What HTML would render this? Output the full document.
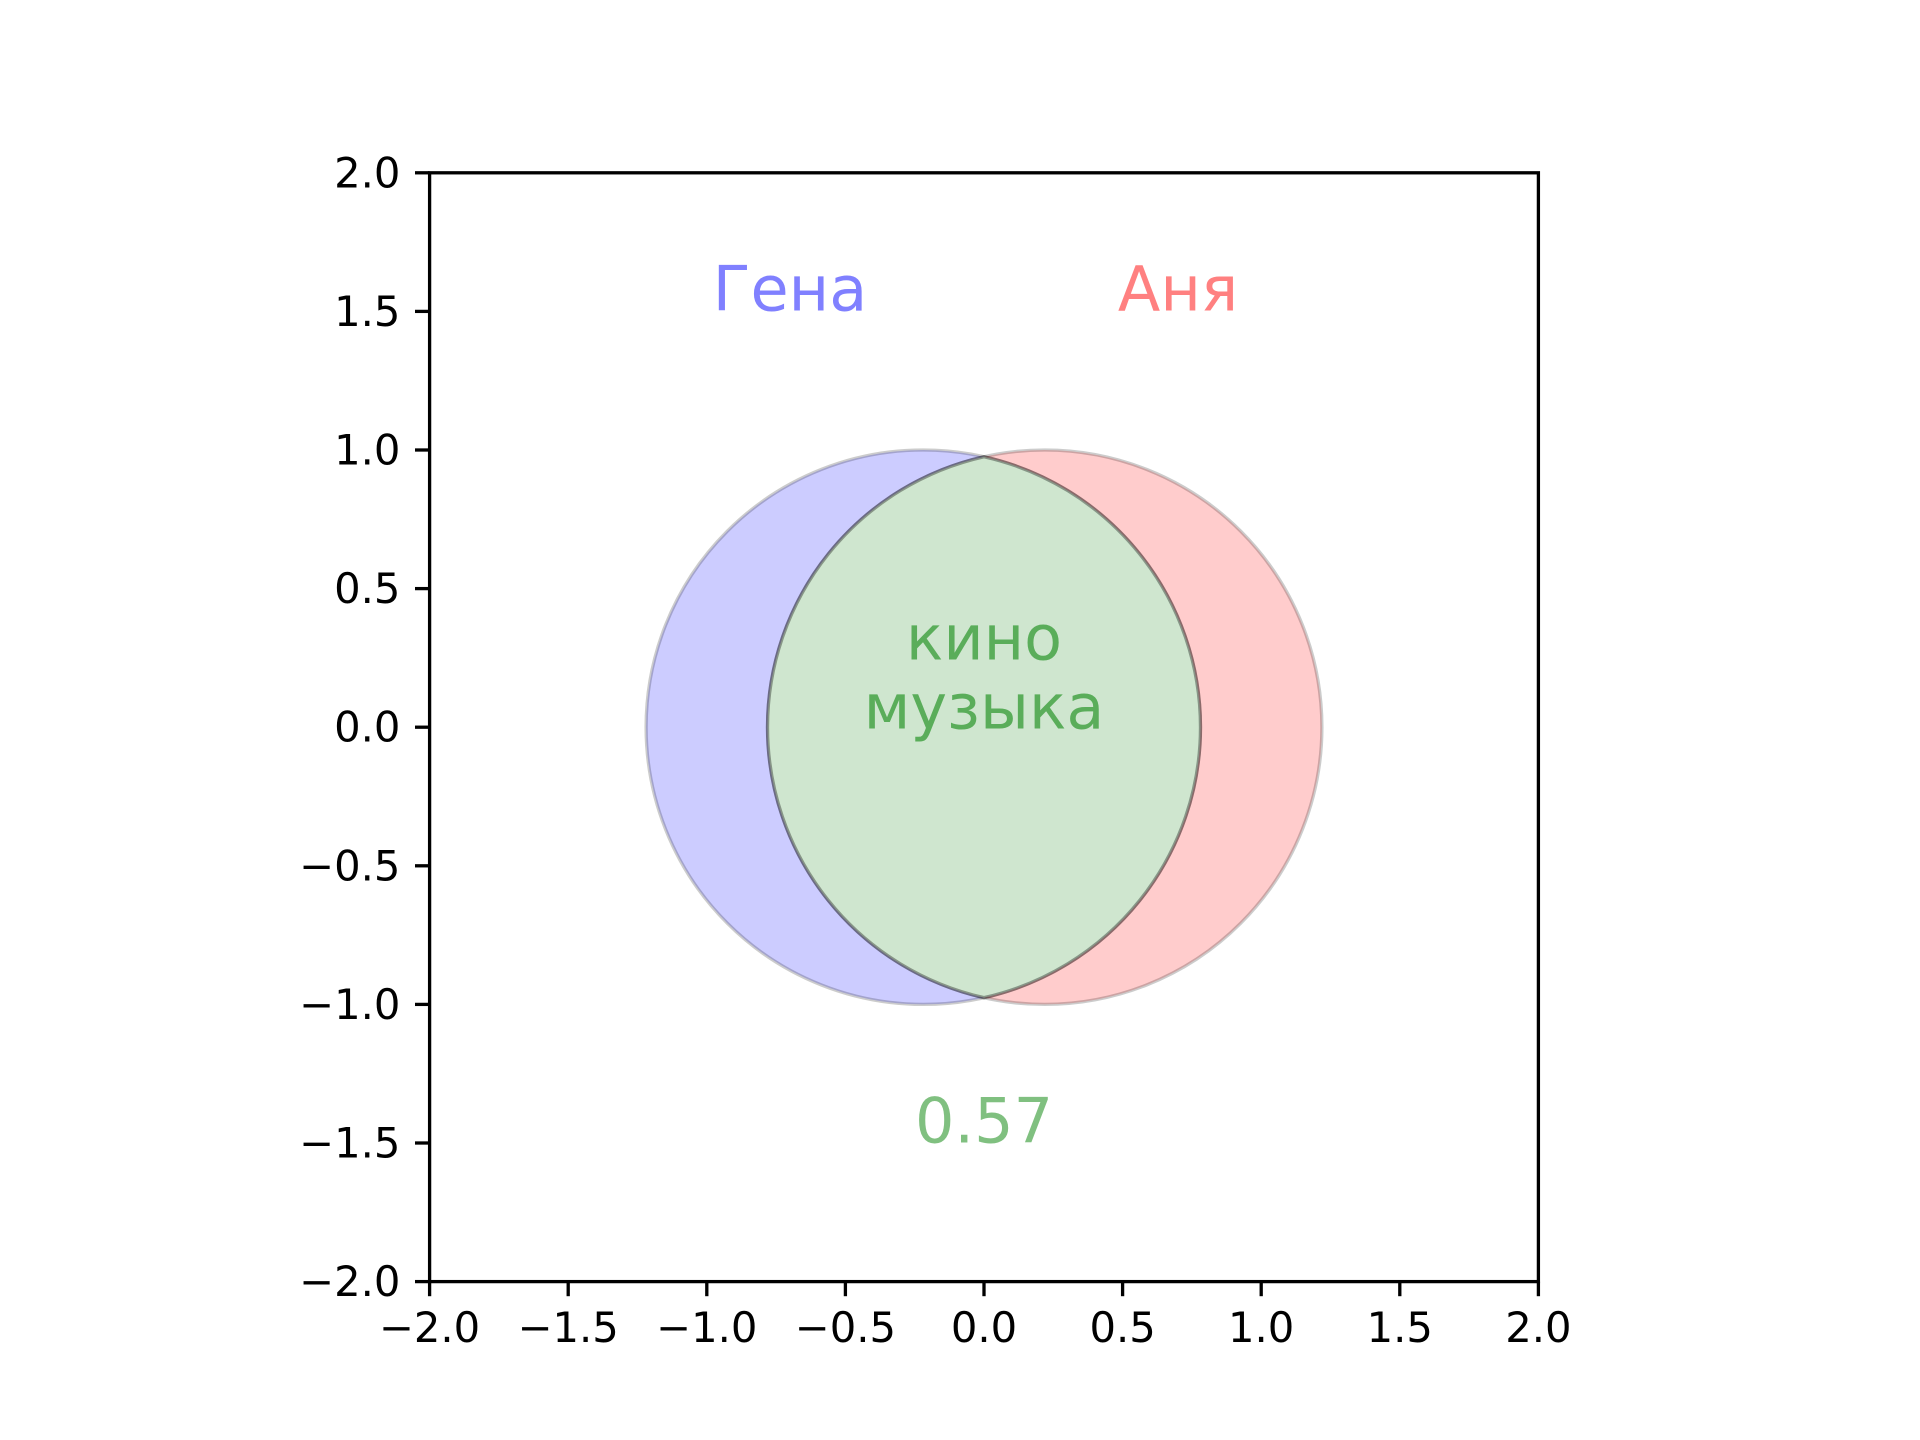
<!DOCTYPE html>
<html><head><meta charset="utf-8"><style>
html,body{margin:0;padding:0;background:#fff}
svg{display:block;font-family:"DejaVu Sans","Liberation Sans",sans-serif}
</style></head><body>
<svg id="chart" width="1920" height="1440" viewBox="0 0 1920 1440" xmlns="http://www.w3.org/2000/svg">
<rect width="1920" height="1440" fill="#fff"/>
<g id="plot"></g>
</svg>
<script>
const xTicks = [-2.0, -1.5, -1.0, -0.5, 0.0, 0.5, 1.0, 1.5, 2.0];
const yTicks = [-2.0, -1.5, -1.0, -0.5, 0.0, 0.5, 1.0, 1.5, 2.0];
const circleNames = ["Гена", "Аня"];
const circleCenters = [-0.219, 0.219];
const circleRadii = [1.0, 1.0];
const labelX = [-0.7, 0.7];
const labelY = [1.58, 1.58];
const intersectionItems = ["кино", "музыка"];
const similarity = [0.57];

const L = 429.6, R = 1538.4, T = 172.8, B = 1281.6;
const sx = v => L + (v + 2) / 4 * (R - L);
const sy = v => B - (v + 2) / 4 * (B - T);
const k = (R - L) / 4;
const NS = "http://www.w3.org/2000/svg";
const g = document.getElementById('plot');
function mk(tag, attrs, parent) {
  const e = document.createElementNS(NS, tag);
  for (const a in attrs) e.setAttribute(a, attrs[a]);
  (parent || g).appendChild(e);
  return e;
}
const fills = ["rgba(0,0,255,0.2)", "rgba(255,0,0,0.2)"];
const labelColors = ["#8080ff", "#ff8080"];
for (let i = 0; i < circleCenters.length; i++) {
  const c = mk('circle', {cx: sx(circleCenters[i]), cy: sy(0), r: circleRadii[i] * k, fill: fills[i], stroke: "rgba(0,0,0,0.2)", 'stroke-width': 3.3});
  
  
}
{
  const d = circleCenters[1] - circleCenters[0];
  const r0 = circleRadii[0], r1 = circleRadii[1];
  const a = (d * d + r0 * r0 - r1 * r1) / (2 * d);
  const h = Math.sqrt(Math.max(0, r0 * r0 - a * a));
  const xi = circleCenters[0] + a;
  const p = `M ${sx(xi)} ${sy(h)} A ${r0 * k} ${r0 * k} 0 0 1 ${sx(xi)} ${sy(-h)} A ${r1 * k} ${r1 * k} 0 0 1 ${sx(xi)} ${sy(h)} Z`;
  const e = mk('path', {d: p, fill: "#cfe6cf", stroke: "rgba(0,0,0,0.35)", 'stroke-width': 3.3});
  
  
}
for (let i = 0; i < circleNames.length; i++) {
  const t = mk('text', {x: sx(labelX[i]), y: sy(labelY[i]), 'font-size': 62, fill: labelColors[i], 'text-anchor': 'middle', 'dominant-baseline': 'central'});
  t.textContent = circleNames[i];
  
  
}
for (let i = 0; i < intersectionItems.length; i++) {
  const t = mk('text', {x: sx(0), y: sy(0.1) - 27 + (i - (intersectionItems.length - 1) / 2) * 69, 'font-size': 62, fill: "#5aad5a", 'text-anchor': 'middle', 'dominant-baseline': 'central'});
  t.textContent = intersectionItems[i];
  
  
}
{
  const t = mk('text', {x: sx(0), y: sy(-1.42), 'font-size': 62, fill: "#80c080", 'text-anchor': 'middle', 'dominant-baseline': 'central'});
  t.textContent = similarity[0].toFixed(2);
  
  
}
{
  const f = mk('rect', {x: L, y: T, width: R - L, height: B - T, fill: 'none', stroke: '#000', 'stroke-width': 3.3});
  
  
}
const fmt = v => (v < 0 ? '\u2212' : '') + Math.abs(v).toFixed(1);
for (const v of xTicks) {
  const x = sx(v);
  const l = mk('line', {x1: x, x2: x, y1: B, y2: B + 14.6, stroke: '#000', 'stroke-width': 3.3});
  
  
  const t = mk('text', {x: x, y: B + 14.6 + 14.6 + 31, 'font-size': 41.7, fill: '#000', 'text-anchor': 'middle'});
  t.textContent = fmt(v);
  
  
}
for (const v of yTicks) {
  const y = sy(v);
  const l = mk('line', {x1: L - 14.6, x2: L, y1: y, y2: y, stroke: '#000', 'stroke-width': 3.3});
  
  
  const t = mk('text', {x: L - 14.6 - 14.6, y: y, 'font-size': 41.7, fill: '#000', 'text-anchor': 'end', 'dominant-baseline': 'central'});
  t.textContent = fmt(v);
  
  
}
</script>
</body></html>
